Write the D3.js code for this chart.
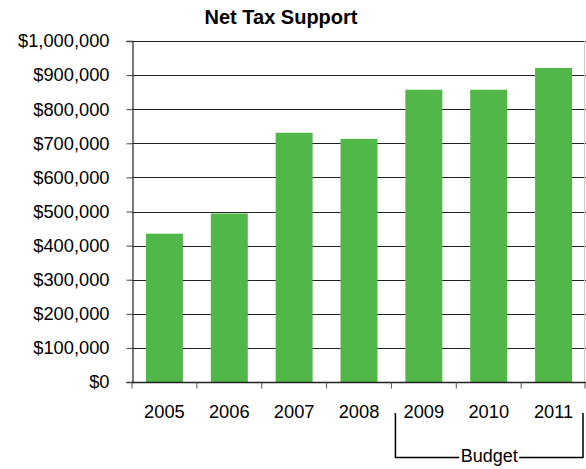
<!DOCTYPE html>
<html>
<head>
<meta charset="utf-8">
<script src="https://cdn.jsdelivr.net/npm/d3@7/dist/d3.min.js"></script>
<style>
  html, body { margin: 0; padding: 0; background: #fff; }
  svg { display: block; font-family: "Liberation Sans", Arial, sans-serif; }
</style>
</head>
<body>
<svg id="chart" width="586" height="469"></svg>
<script>
// Net tax support by year (2009–2011 are budget figures)
const years = ["2005", "2006", "2007", "2008", "2009", "2010", "2011"];
const netTax = [435000, 494000, 731000, 713000, 857000, 857000, 921000];
const yTicks = [0, 100000, 200000, 300000, 400000, 500000, 600000, 700000, 800000, 900000, 1000000];
const budgetYears = ["2009", "2010", "2011"];
const title = "Net Tax Support";
const budgetLabel = "Budget";

const svg = d3.select("#chart");
const margin = { left: 132, right: 0, top: 41, bottom: 87 };
const W = 586, H = 469;

const x = d3.scaleBand()
  .domain(years)
  .range([margin.left, W - margin.right])
  .paddingInner(0.43)
  .paddingOuter(0.215);

const y = d3.scaleLinear()
  .domain([0, 1000000])
  .range([H - margin.bottom, margin.top]);

// Title
svg.append("text")
  .attr("x", 281)
  .attr("y", 24)
  .attr("text-anchor", "middle")
  .attr("font-size", 20)
  .attr("font-weight", "bold")
  .attr("fill", "#000")
  .text(title);

// Horizontal gridlines
svg.append("g")
  .selectAll("line")
  .data(yTicks.filter(d => d > 0))
  .join("line")
  .attr("x1", margin.left)
  .attr("x2", W - margin.right)
  .attr("y1", d => Math.round(y(d)) + 0.5)
  .attr("y2", d => Math.round(y(d)) + 0.5)
  .attr("stroke", "#222")
  .attr("stroke-width", 1);

// Right border of the plot area
svg.append("line")
  .attr("x1", W - 1.5).attr("x2", W - 1.5)
  .attr("y1", y(1000000)).attr("y2", y(0))
  .attr("stroke", "#c8c8c8")
  .attr("stroke-width", 1);

// Bars
svg.append("g")
  .selectAll("rect")
  .data(years.map((yr, i) => ({ yr, v: netTax[i] })))
  .join("rect")
  .attr("x", d => x(d.yr))
  .attr("width", x.bandwidth())
  .attr("y", d => y(d.v))
  .attr("height", d => y(0) - y(d.v))
  .attr("fill", "#51b748");

// Y axis
const yAxis = d3.axisLeft(y)
  .tickValues(yTicks)
  .tickSize(6)
  .tickPadding(17)
  .tickFormat(d => "$" + d3.format(",")(d));

const gy = svg.append("g")
  .attr("transform", `translate(${margin.left + 0.5},0)`)
  .call(yAxis);
gy.select(".domain").attr("stroke", "#333").attr("stroke-width", 1.3);
gy.selectAll(".tick line").attr("stroke", "#444");
gy.selectAll(".tick text")
  .attr("font-size", 18.3)
  .attr("font-family", "Liberation Sans, Arial, sans-serif")
  .attr("fill", "#000");

// X axis: ticks at category boundaries
const gx = svg.append("g")
  .attr("transform", `translate(0,${Math.round(y(0)) + 0.5})`);
gx.append("line")
  .attr("x1", margin.left).attr("x2", W - margin.right)
  .attr("stroke", "#222").attr("stroke-width", 1.3);
const step = x.step();
const boundaries = years.map((yr, i) => margin.left + i * step).concat([W - margin.right - 1]);
gx.selectAll("line.tk")
  .data(boundaries)
  .join("line")
  .attr("class", "tk")
  .attr("x1", d => d).attr("x2", d => d)
  .attr("y1", 0).attr("y2", 6)
  .attr("stroke", "#555");
gx.selectAll("text")
  .data(years)
  .join("text")
  .attr("x", d => x(d) + x.bandwidth() / 2)
  .attr("y", 35)
  .attr("text-anchor", "middle")
  .attr("font-size", 18.3)
  .attr("fill", "#000")
  .text(d => d);

// Budget bracket under the budget years
const bx0 = x(budgetYears[0]) - (step - x.bandwidth()) / 2 + 4;
const bx1 = x(budgetYears[budgetYears.length - 1]) + x.bandwidth() + (step - x.bandwidth()) / 2 - 3;
const bTop = 413, bBot = 457.5;
const labelX = (bx0 + bx1) / 2;
const gapHalf = 30;
svg.append("path")
  .attr("d", `M${bx0},${bTop} V${bBot} H${labelX - gapHalf}`)
  .attr("fill", "none").attr("stroke", "#000").attr("stroke-width", 1.5);
svg.append("path")
  .attr("d", `M${labelX + gapHalf},${bBot} H${bx1} V${bTop}`)
  .attr("fill", "none").attr("stroke", "#000").attr("stroke-width", 1.5);
svg.append("text")
  .attr("x", labelX)
  .attr("y", 462)
  .attr("text-anchor", "middle")
  .attr("font-size", 18)
  .attr("fill", "#000")
  .text(budgetLabel);
</script>
</body>
</html>
